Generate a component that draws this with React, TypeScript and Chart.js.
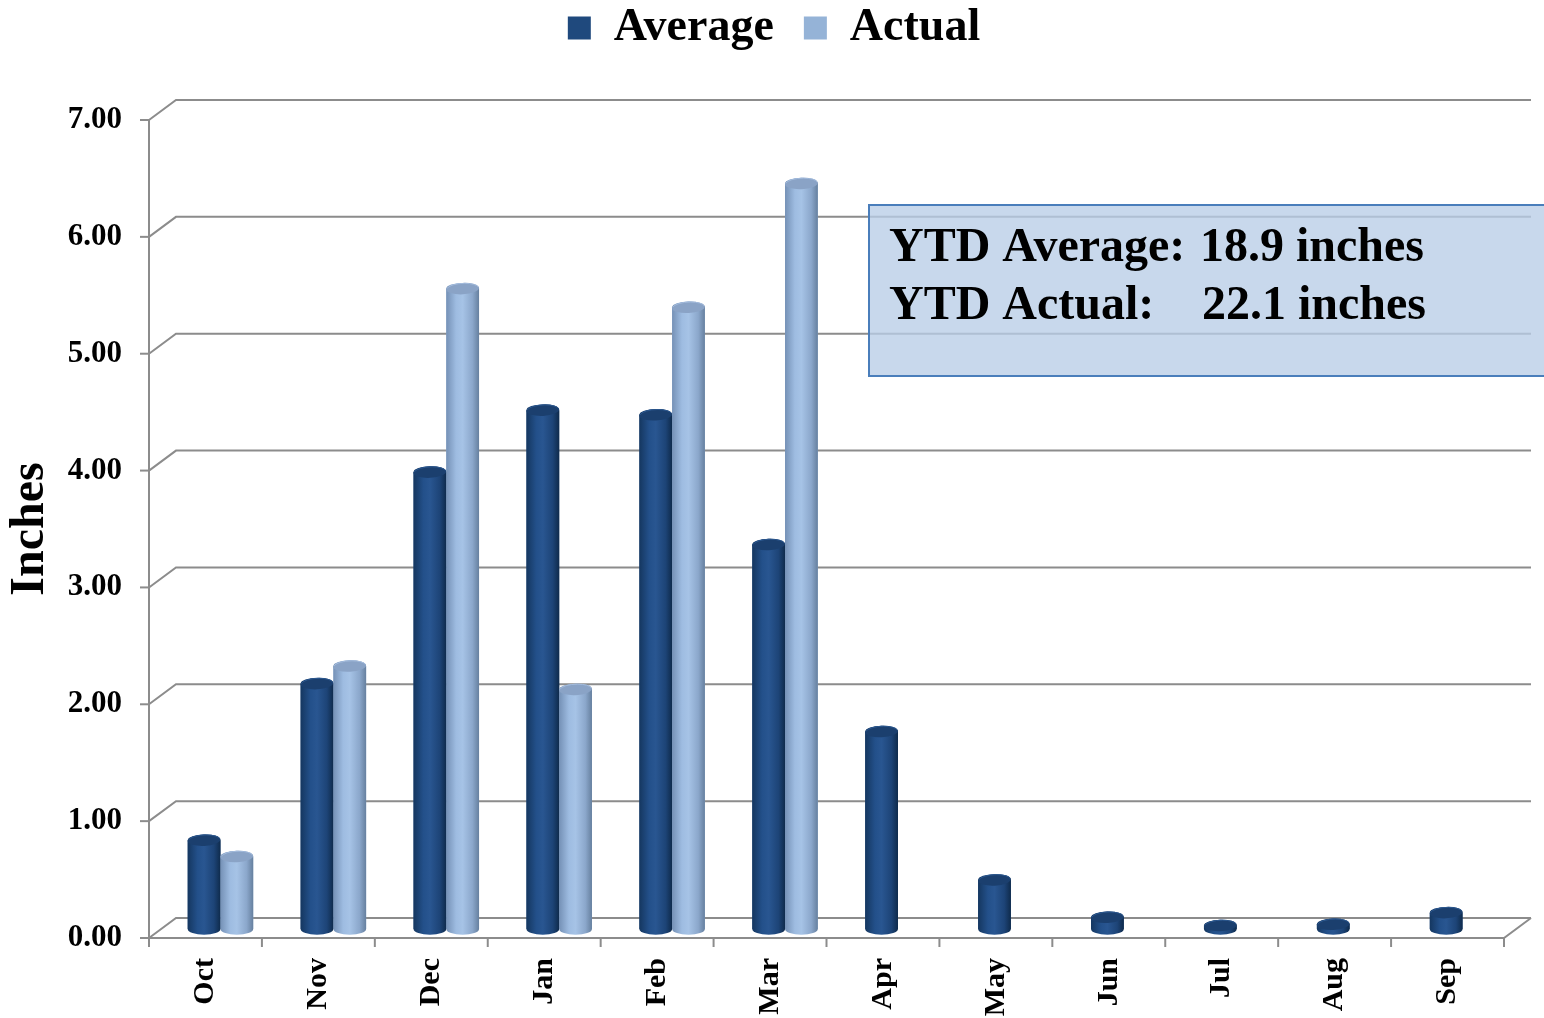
import React, { useEffect, useRef } from "react";
import { Chart, registerables } from "chart.js";

Chart.register(...registerables);

const MONTHS = ["Oct", "Nov", "Dec", "Jan", "Feb", "Mar", "Apr", "May", "Jun", "Jul", "Aug", "Sep"];
const AVERAGE = [0.76, 2.1, 3.91, 4.44, 4.4, 3.29, 1.69, 0.42, 0.1, 0.03, 0.04, 0.14];
const ACTUAL: (number | null)[] = [0.62, 2.25, 5.48, 2.05, 5.32, 6.38, null, null, null, null, null, null];
const Y_TICKS = [0, 1, 2, 3, 4, 5, 6, 7];
const SERIES_NAMES = ["Average", "Actual"];
const NOTE_LINES = [
  ["YTD Average:", "18.9 inches"],
  ["YTD Actual:", "22.1 inches"],
];

const FONT = '"Liberation Serif", "Times New Roman", serif';

// 3D look parameters
const WALL_DX = 27;
const WALL_DY = -20;
const BAR_DX = 15;
const BAR_DY = -9;
const LEGEND_DY = -59;
const LEGEND_DX = 22;
const GRID_COLOR = "#8c8c8c";

const STYLES = [
  {
    stops: [
      [0, "#153760"],
      [0.3, "#23508a"],
      [0.5, "#295691"],
      [0.8, "#1d4477"],
      [1, "#0f2b4c"],
    ],
    top: "#1b3f6e",
    topEdge: "#2c588f",
  },
  {
    stops: [
      [0, "#7591b6"],
      [0.3, "#9ebce1"],
      [0.5, "#a6c3e6"],
      [0.8, "#8ba7cb"],
      [1, "#66809f"],
    ],
    top: "#8aa3c6",
    topEdge: "#a3bbdc",
  },
];

function drawCylinder(ctx: CanvasRenderingContext2D, x: number, top: number, base: number, w: number, style: any) {
  const rx = w / 2;
  const ry = Math.min(6, rx * 0.35);
  const g = ctx.createLinearGradient(x - rx, 0, x + rx, 0);
  style.stops.forEach((s: any) => g.addColorStop(s[0], s[1]));
  ctx.save();
  ctx.beginPath();
  ctx.moveTo(x - rx, top);
  ctx.lineTo(x - rx, base);
  ctx.ellipse(x, base, rx, ry, 0, Math.PI, 0, true);
  ctx.lineTo(x + rx, top);
  ctx.ellipse(x, top, rx, ry, 0, 0, Math.PI, true);
  ctx.closePath();
  ctx.fillStyle = g;
  ctx.fill();
  ctx.beginPath();
  ctx.ellipse(x, top, rx, ry, -0.05, 0, Math.PI * 2);
  ctx.fillStyle = style.top;
  ctx.fill();
  ctx.lineWidth = 1;
  ctx.strokeStyle = style.topEdge;
  ctx.beginPath();
  ctx.ellipse(x, top, rx - 0.5, ry - 0.5, -0.05, Math.PI * 1.05, Math.PI * 1.95);
  ctx.stroke();
  ctx.restore();
}

const depthPlugin = {
  id: "depth3d",
  afterLayout(chart: any) {
    const l = chart.legend;
    if (l) {
      l.top += LEGEND_DY;
      l.bottom += LEGEND_DY;
      l.left += LEGEND_DX;
      l.right += LEGEND_DX;
    }
  },
  beforeDatasetsDraw(chart: any) {
    const ctx: CanvasRenderingContext2D = chart.ctx;
    const { left, right, top, bottom } = chart.chartArea;
    const y = chart.scales.y;
    const xs = chart.scales.x;
    ctx.save();
    ctx.strokeStyle = GRID_COLOR;
    ctx.lineWidth = 2;
    // back wall gridlines with depth connectors
    Y_TICKS.forEach((v) => {
      const py = y.getPixelForValue(v);
      ctx.beginPath();
      ctx.moveTo(left, py);
      ctx.lineTo(left + WALL_DX, py + WALL_DY);
      ctx.lineTo(right + WALL_DX, py + WALL_DY);
      ctx.stroke();
      // tick mark
      ctx.beginPath();
      ctx.moveTo(left - 9, py);
      ctx.lineTo(left, py);
      ctx.stroke();
    });
    // front vertical axis
    ctx.beginPath();
    ctx.moveTo(left, top);
    ctx.lineTo(left, bottom);
    ctx.stroke();
    // front floor edge + right side
    ctx.beginPath();
    ctx.moveTo(left, bottom);
    ctx.lineTo(right, bottom);
    ctx.lineTo(right + WALL_DX, bottom + WALL_DY);
    ctx.stroke();
    // category ticks
    for (let i = 0; i <= MONTHS.length; i++) {
      const px = xs.getPixelForValue(i - 0.5);
      ctx.beginPath();
      ctx.moveTo(px, bottom);
      ctx.lineTo(px, bottom + 9);
      ctx.stroke();
    }
    // note box
    const bx = left + 720;
    const by = top + 85;
    const bw = 700;
    const bh = 171;
    ctx.fillStyle = "rgba(184, 205, 231, 0.78)";
    ctx.fillRect(bx, by, bw, bh);
    ctx.strokeStyle = "#4a7ebb";
    ctx.lineWidth = 2;
    ctx.strokeRect(bx, by, bw, bh);
    ctx.fillStyle = "#000";
    ctx.font = `bold 48px ${FONT}`;
    ctx.textBaseline = "alphabetic";
    ctx.textAlign = "left";
    NOTE_LINES.forEach((ln, i) => {
      const ty = by + 56 + i * 58;
      ctx.fillText(ln[0], bx + 20, ty);
      ctx.fillText(ln[1], bx + 331 + i * 2, ty);
    });
    ctx.restore();

    ctx.save();
    ctx.translate(BAR_DX, BAR_DY);
  },
  afterDatasetsDraw(chart: any) {
    const ctx: CanvasRenderingContext2D = chart.ctx;
    chart.data.datasets.forEach((ds: any, di: number) => {
      const meta = chart.getDatasetMeta(di);
      meta.data.forEach((el: any, i: number) => {
        const v = ds.data[i];
        if (v === null || v === undefined) return;
        const p = el.getProps(["x", "y", "base", "width"], true);
        drawCylinder(ctx, p.x, p.y, p.base, p.width, STYLES[di]);
      });
    });
    ctx.restore();
  },
};

export default function App() {
  const ref = useRef<HTMLCanvasElement | null>(null);
  useEffect(() => {
    if (!ref.current) return;
    const chart = new Chart(ref.current, {
      type: "bar",
      data: {
        labels: MONTHS,
        datasets: [
          {
            label: SERIES_NAMES[0],
            data: AVERAGE,
            backgroundColor: "#1F497D",
            borderWidth: 0,
            categoryPercentage: 0.58,
            barPercentage: 1,
          },
          {
            label: SERIES_NAMES[1],
            data: ACTUAL,
            backgroundColor: "#95B3D7",
            borderWidth: 0,
            categoryPercentage: 0.58,
            barPercentage: 1,
          },
        ],
      },
      options: {
        responsive: false,
        animation: false,
        events: [],
        layout: { padding: { top: 34, right: 40, left: 0, bottom: 0 } },
        plugins: {
          legend: {
            position: "top",
            labels: {
              boxWidth: 23,
              boxHeight: 23,
              padding: 30,
              color: "#000",
              font: { family: FONT, size: 46, weight: "bold" },
            },
          },
          tooltip: { enabled: false },
        },
        scales: {
          x: {
            type: "category",
            grid: { display: false, drawTicks: false },
            border: { display: false },
            ticks: {
              autoSkip: false,
              minRotation: 90,
              maxRotation: 90,
              padding: 20,
              color: "#000",
              font: { family: FONT, size: 30, weight: "bold" },
            },
            afterFit: (s: any) => {
              s.height = 80;
            },
          },
          y: {
            min: 0,
            max: 7,
            grid: { display: false, drawTicks: false },
            border: { display: false },
            ticks: {
              stepSize: 1,
              padding: 27,
              color: "#000",
              font: { family: FONT, size: 31, weight: "bold" },
              callback: (v: any) => Number(v).toFixed(2),
            },
            title: {
              display: true,
              text: "Inches",
              color: "#000",
              padding: { top: 2, bottom: 0 },
              font: { family: FONT, size: 48, weight: "bold" },
            },
            afterFit: (s: any) => {
              s.width = 149;
            },
          },
        },
      },
      plugins: [depthPlugin],
    } as any);
    return () => chart.destroy();
  }, []);
  return (
    <div style={{ position: "absolute", left: 0, top: 0, width: 1544, height: 1018, background: "#fff" }}>
      <canvas ref={ref} width={1544} height={1018} style={{ display: "block" }} />
    </div>
  );
}
